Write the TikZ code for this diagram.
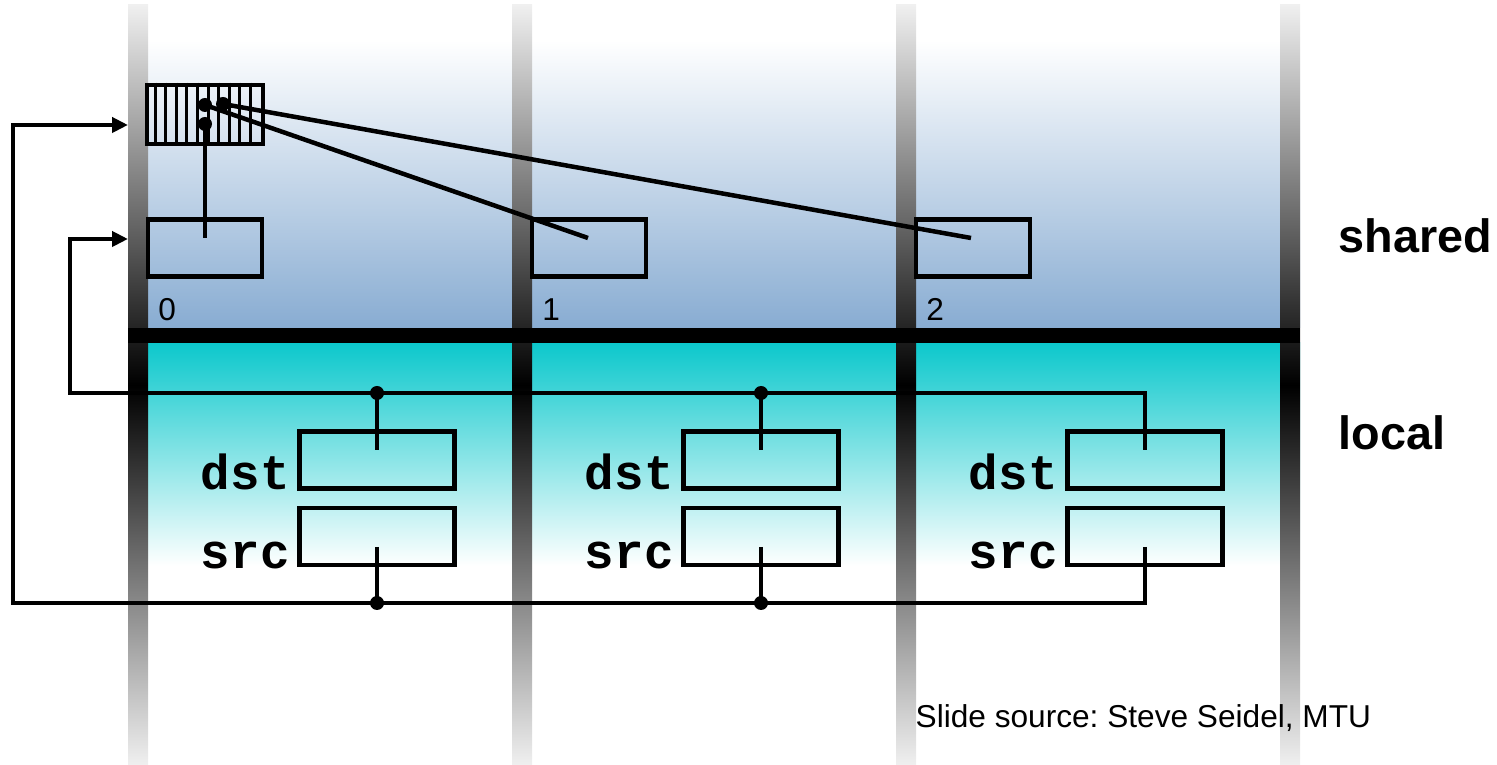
\documentclass[tikz,border=0pt]{standalone}
\usepackage{fontspec}
\setmainfont{Liberation Sans}
\newfontfamily\codefont{Liberation Mono}
\usepackage{xcolor}
\definecolor{SharedBlue}{RGB}{136,172,210}
\definecolor{LocalCyan}{RGB}{12,200,204}
\usetikzlibrary{arrows.meta}
\usetikzlibrary{calc,positioning}
\tikzset{
	wire/.style={line width=0.45mm},
	cellbox/.style={draw, wire, inner sep=0pt, minimum width=11.4mm, minimum height=5.7mm},
	localbox/.style={draw, wire, inner sep=0pt, minimum width=15.5mm, minimum height=5.7mm},
	junction/.style={circle, fill=black, inner sep=0pt, minimum size=1.4mm},
	varname/.style={font={\codefont\bfseries\fontsize{14}{16}\selectfont}, inner sep=0pt, anchor=base east},
	procnum/.style={font={\fontsize{9}{10}\selectfont}, inner sep=0pt, anchor=base west},
	region/.style={font={\bfseries\fontsize{13.3}{15}\selectfont}, inner sep=0pt, anchor=base west},
	feed/.style={wire, -{Triangle[length=1.6mm,width=1.5mm]}}
}
\frenchspacing

\begin{document}
\begin{tikzpicture}[x=0.1mm, y=-0.1mm]
	\useasboundingbox (0,0) rectangle (1497,765);
	\pgfmathsetmacro{\colstep}{384};
%
	%backgrounds
	\shade[top color=white, bottom color=SharedBlue] (128,40) rectangle (1300,328);
	\shade[top color=LocalCyan, bottom color=white] (128,343) rectangle (1300,566);
	\foreach \k in {0,...,3}
		\shade[top color=black!6, bottom color=black!6, middle color=black] ({128+\k*\colstep},5) rectangle ++(20,760);
	\fill[black] (128,328) rectangle (1300,343);
%
	%columns
	\foreach \i in {0,1,2}{
		\node[cellbox] (sh\i) at ({205+\i*\colstep},248) {};
		\node[procnum] (num\i) at ($(sh\i.south west)+(12,42)$) {\i};
		\node[localbox] (dst\i) at ({377+\i*\colstep},460) {};
		\node[localbox] (src\i) at ({377+\i*\colstep},536.5) {};
		\node[varname] (dstlbl\i) at ($(dst\i.south west)+(-7,-1)$) {dst};
		\node[varname] (srclbl\i) at ($(src\i.south west)+(-7,1)$) {src};
		\coordinate (shin\i) at ($(sh\i.center)+(-\i,-10)$);
		\coordinate (dstin\i) at ($(dst\i.center)+(0,-10)$);
		\coordinate (srcout\i) at ($(src\i.center)+(0,10.5)$);
	}
%
	%pointer array
	\node[cellbox, minimum width=11.6mm, minimum height=5.9mm] (arr) at (205,114.5) {};
	\foreach \k in {1,...,10}
		\draw[line width=0.3mm] ($(arr.north west)+({\k*116/11},0)$) -- ($(arr.south west)+({\k*116/11},0)$);
	\node[junction] (ptr0) at ($(arr.center)+(0,9.5)$) {};
	\node[junction] (ptr1) at ($(arr.center)+(0,-9.5)$) {};
	\node[junction] (ptr2) at ($(arr.center)+(18,-10.5)$) {};
	\draw[wire] (ptr0.center) -- (shin0);
	\draw[wire] (ptr1.center) -- (shin1);
	\draw[wire] (ptr2.center) -- (shin2);
%
	%gather and scatter loops
	\coordinate (gatherTurn) at (70,393);
	\coordinate (scatterTurn) at (13,603);
	\coordinate (shIn) at (128,239);
	\coordinate (arrIn) at (128,125);
	\draw[feed] (dstin2) |- (gatherTurn) |- (shIn);
	\draw[feed] (srcout2) |- (scatterTurn) |- (arrIn);
	\foreach \i in {0,1}{
		\draw[wire] (dstin\i) -- (dstin\i |- gatherTurn) node[junction] (dj\i) {};
		\draw[wire] (srcout\i) -- (srcout\i |- scatterTurn) node[junction] (sj\i) {};
	}
%
	\node[region] (sharedlbl) at (1338,253) {shared};
	\node[region] (locallbl) at (1338,450) {local};
	\node[procnum] (credit) at (915,727) {Slide source: Steve Seidel, MTU};
\end{tikzpicture}
\end{document}
